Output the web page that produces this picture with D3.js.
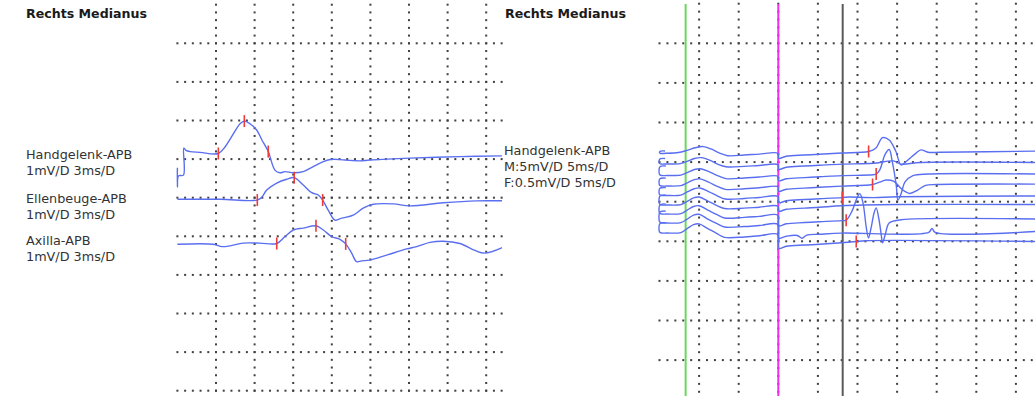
<!DOCTYPE html>
<html>
<head>
<meta charset="utf-8">
<script src="https://cdn.jsdelivr.net/npm/d3@7"></script>
<style>
  html, body { margin: 0; padding: 0; background: #fff; }
  svg { display: block; }
  text { font-family: "DejaVu Sans", Verdana, sans-serif; fill: #333; }
</style>
</head>
<body>
<svg id="chart" width="1035" height="396"></svg>
<script>
// ---------- labels ----------
const panelTitles = ["Rechts Medianus", "Rechts Medianus"];
const leftLabels = [
  ["Handgelenk-APB", "1mV/D 3ms/D"],
  ["Ellenbeuge-APB", "1mV/D 3ms/D"],
  ["Axilla-APB", "1mV/D 3ms/D"]
];
const rightLabel = ["Handgelenk-APB", "M:5mV/D 5ms/D", "F:0.5mV/D 5ms/D"];

// ---------- motor conduction traces: [ms, mV] ----------
const handgelenkAPB = [[0,-0.22],[0,-0.72],[0.09,-0.43],[0.47,-0.41],[0.5,0.29],[0.67,0.23],[0.98,0.2],[1.76,0.18],[3.18,0.15],[3.7,0.32],[4.24,0.6],[4.87,0.92],[5.2,0.99],[5.64,0.92],[6.16,0.76],[6.57,0.5],[7.06,0.2],[7.58,-0.28],[7.97,-0.35],[8.36,-0.32],[9.01,-0.35],[9.78,-0.32],[10.56,-0.19],[11.34,-0.06],[11.99,0],[13.02,-0.02],[14.18,-0.04],[14.96,-0.02],[18.07,0.03],[21.96,0.07],[25.3,0.09]];
const ellenbeugeAPB = [[0,0],[3.31,0],[6.21,-0.02],[6.57,0.06],[6.94,0.24],[7.72,0.42],[8.49,0.52],[9.08,0.56],[9.78,0.37],[10.44,0.17],[10.95,0.11],[11.29,-0.02],[11.72,-0.28],[12.25,-0.54],[12.77,-0.49],[13.67,-0.41],[14.44,-0.23],[15.22,-0.13],[16.78,-0.12],[18.07,-0.17],[20.66,-0.09],[23.26,-0.04],[25.3,-0.04]];
const axillaAPB = [[0,0],[2.79,0],[3.47,-0.06],[4.09,-0.04],[5.12,0.03],[6.42,0.03],[7.72,0.02],[8.36,0.2],[9.01,0.37],[9.78,0.42],[10.77,0.48],[11.34,0.37],[11.99,0.2],[12.63,0.13],[13.08,0.01],[13.54,-0.23],[13.93,-0.45],[14.32,-0.43],[14.96,-0.41],[16.26,-0.28],[17.82,-0.12],[18.59,-0.06],[19.63,0.05],[20.66,0.08],[21.96,0.02],[23.12,-0.16],[23.9,-0.23],[25.3,-0.08]];
const leftTraces = [handgelenkAPB, ellenbeugeAPB, axillaAPB];
// latency markers (ms): onset, peak, end
const leftMarkers = [[3.18, 5.2, 7.06], [6.21, 9.08, 11.29], [7.72, 10.77, 13.08]];

// ---------- F-wave series: M part (mV, shown at 5 mV/D) up to 15 ms ----------
const mParts = [
  [[0.7,0.3],[0.15,0.28],[0,0.18],[0.1,0],[0.8,0],[2.4,0.1],[3.4,0.35],[4.5,0.7],[5.5,0.85],[6.5,0.55],[7.6,0.02],[8.6,-0.3],[10.7,-0.22],[12.6,-0.1],[14.95,0]],
  [[0.7,0.7],[0.15,0.68],[0,0.55],[0,0.08],[0.2,0],[0.8,0],[2.6,0.05],[3.4,0.3],[4.4,0.7],[5.3,0.8],[6.4,0.45],[7.4,-0.05],[8.4,-0.35],[10.7,-0.3],[12.6,-0.18],[14.95,-0.08]],
  [[0.8,1.2],[0.2,1.18],[0,1.0],[0,0.15],[0.25,0],[0.9,0],[2.7,0.05],[3.5,0.35],[4.4,0.75],[5.2,0.85],[6.3,0.45],[7.4,-0.05],[8.4,-0.4],[10.7,-0.32],[12.6,-0.2],[14.95,-0.1]],
  [[0.8,1.0],[0.2,0.98],[0,0.85],[0,0.12],[0.25,0],[0.9,0],[2.7,0.05],[3.5,0.4],[4.4,0.8],[5.1,0.9],[6.2,0.5],[7.3,-0.05],[8.3,-0.42],[10.7,-0.35],[12.6,-0.22],[14.95,-0.1]],
  [[0.8,1.0],[0.2,0.98],[0,0.85],[0,0.12],[0.25,0],[0.9,0],[2.7,0.05],[3.5,0.45],[4.4,0.85],[5.1,0.95],[6.2,0.5],[7.3,-0.05],[8.3,-0.45],[10.7,-0.38],[12.6,-0.25],[14.95,-0.12]],
  [[0.8,1.25],[0.2,1.22],[0,1.05],[0,0.15],[0.25,0],[0.9,0],[2.7,0.05],[3.5,0.45],[4.3,0.9],[5.0,1.0],[6.1,0.5],[7.2,-0.05],[8.2,-0.45],[10.7,-0.4],[12.6,-0.28],[14.95,-0.15]],
  [[0.8,1.25],[0.2,1.22],[0,1.05],[0,0.15],[0.25,0],[0.9,0],[2.7,0.05],[3.5,0.5],[4.3,0.95],[5.0,1.05],[6.1,0.5],[7.2,-0.05],[8.2,-0.5],[10.7,-0.42],[12.6,-0.3],[14.95,-0.15]],
  [[0.8,1.5],[0.2,1.47],[0,1.3],[0,0.18],[0.25,0],[0.9,0],[2.7,0.05],[3.5,0.5],[4.3,1.0],[5.0,1.1],[6.1,0.5],[7.2,-0.05],[8.2,-0.5],[10.7,-0.45],[12.6,-0.32],[14.95,-0.18]],
  [[0.8,1.3],[0.2,1.27],[0,1.1],[0,0.15],[0.25,0],[0.9,0],[2.7,0.05],[3.5,0.55],[4.3,1.05],[5.0,1.15],[6.1,0.55],[7.2,-0.05],[8.2,-0.55],[10.7,-0.5],[12.6,-0.35],[14.95,-0.2]]
];
// ---------- F part (mV, shown at 0.5 mV/D) from 15 ms ----------
const fParts = [
  [[15.05,-0.085],[16,-0.06],[18.3,-0.045],[20.2,-0.035],[23,-0.02],[26.4,0],[27.3,0.04],[28.16,0.175],[29.0,0.145],[29.85,0],[30.48,-0.17],[31.1,-0.13],[32.4,-0.02],[33.0,0.02],[33.9,-0.01],[35.4,-0.01],[47.5,0.005]],
  [[15.05,-0.085],[16,-0.06],[18.3,-0.045],[20.2,-0.035],[23,-0.02],[27,-0.01],[29.5,0.02],[30.5,-0.02],[33,0],[47.5,0]],
  [[15.05,-0.085],[16,-0.06],[18.3,-0.045],[20.2,-0.035],[23,-0.02],[26.9,-0.01],[27.36,0],[27.8,0.05],[28.5,0.25],[29.0,0.31],[29.4,0.15],[29.9,-0.15],[30.1,-0.33],[30.5,-0.25],[31.0,-0.1],[32,-0.02],[34,0],[47.5,0]],
  [[15.05,-0.085],[16,-0.06],[18.3,-0.045],[20.2,-0.035],[23,-0.02],[26.9,0],[27.8,0.03],[28.6,0.057],[29.6,0.04],[30.6,-0.06],[31.6,-0.113],[32.6,-0.07],[33.6,-0.01],[35,0],[47.5,0.005]],
  [[15.05,-0.085],[16,-0.06],[18.3,-0.045],[20.2,-0.035],[23,-0.02],[24,-0.012],[27,-0.02],[30,-0.01],[47.5,0]],
  [[15.05,-0.085],[16,-0.06],[18.3,-0.045],[20.2,-0.035],[23,-0.015],[30,0],[47.5,0]],
  [[15.05,-0.085],[16,-0.06],[18.3,-0.045],[20.2,-0.035],[23,-0.02],[23.57,-0.015],[24.3,0.1],[25.0,0.28],[25.3,0.32],[25.7,0.2],[26.1,-0.1],[26.39,-0.24],[26.7,-0.12],[27.1,0.08],[27.36,0.14],[27.7,0],[28.0,-0.2],[28.16,-0.3],[28.5,-0.2],[29.0,-0.05],[30.5,-0.01],[47.5,0]],
  [[15.05,-0.085],[16,-0.06],[17.4,-0.05],[18.0,-0.085],[18.6,-0.045],[20.2,-0.035],[23,-0.02],[34.0,-0.01],[34.4,0.04],[34.8,-0.01],[47.5,0]],
  [[15.05,-0.085],[16,-0.06],[18.3,-0.045],[20.2,-0.035],[23,-0.015],[24.84,0],[26,0.01],[47.5,0]]
];
// F latency markers (ms); null where none is set
const fMarkers = [26.4, null, 27.36, 26.9, 23.07, null, 23.57, null, 24.84];
// cursor positions (ms)
const cursorTimes = [3.3, 15, 23.13];

// ---------- layout ----------
const svg = d3.select("#chart");
const TRACE = "#5a6ff0", MARK = "#f03a3a", DOT = "#404040";
const cursorColors = ["#6ad85c", "#f22ef2", "#5a5a5a"];

// left panel: 1 mV/D, 3 ms/D
const L = { x0: 177.4, y0: 4.7, cell: 38.6, xEnd: 502, cols: 8, rows: 10 };
// right panel: 5 ms/D
const R = { x0: 659.5, y0: 3.7, cell: 39.6, xEnd: 1035, cols: 9, rows: 9 };

const xL = d3.scaleLinear().domain([0, 30]).range([L.x0, L.x0 + 10 * L.cell]);
const yL = d3.scaleLinear().domain([0, 10]).range([L.y0, L.y0 + 10 * L.cell]);
const xR = d3.scaleLinear().domain([0, 50]).range([R.x0, R.x0 + 10 * R.cell]);
const yR = d3.scaleLinear().domain([0, 10]).range([R.y0, R.y0 + 10 * R.cell]);

const leftBase = [4.005, 5.041, 6.207];            // divisions
const mBase = [3.778, 4.048, 4.338, 4.604, 4.843, 5.083, 5.311, 5.538, 5.79];
const fBase = [3.732, 4.01, 4.301, 4.566, 4.856, 5.071, 5.437, 5.753, 6.005];
const mGain = 5, fGain = 0.5;

function drawGrid(P) {
  const g = svg.append("g").attr("fill", DOT);
  const step = P.cell / 5;
  const pts = [];
  for (let j = 1; j <= P.rows; j++) {
    const y = P.y0 + j * P.cell;
    for (let x = P.x0; x <= P.xEnd + 0.5; x += step) pts.push([x, y]);
  }
  for (let i = 1; i <= P.cols; i++) {
    const x = P.x0 + i * P.cell;
    for (let y = P.y0; y <= 397; y += step) pts.push([x, y]);
  }
  g.selectAll("rect").data(pts).join("rect")
    .attr("x", d => d[0] - 1).attr("y", d => d[1] - 1)
    .attr("width", 2).attr("height", 2);
}
drawGrid(L);
drawGrid(R);

// clip for left panel
svg.append("clipPath").attr("id", "clipL").append("rect")
  .attr("x", 170).attr("y", 0).attr("width", L.xEnd - 170).attr("height", 396);

// titles
svg.selectAll("text.title").data(panelTitles).join("text")
  .attr("class", "title")
  .attr("x", (d, i) => i === 0 ? 26 : 505).attr("y", 18)
  .attr("font-size", 12.6).attr("font-weight", "bold").style("fill", "#1a1a1a")
  .text(d => d);

// left labels
const labelTop = [158.5, 202.5, 245];
leftLabels.forEach((lines, i) => {
  lines.forEach((s, k) => {
    svg.append("text").attr("x", 26).attr("y", labelTop[i] + k * 16)
      .attr("font-size", 12.8).text(s);
  });
});
rightLabel.forEach((s, k) => {
  svg.append("text").attr("x", 504).attr("y", 155 + k * 16)
    .attr("font-size", 12.8).text(s);
});

// interpolate a trace value at time t (monotone part only)
function valueAt(pts, t) {
  for (let i = 1; i < pts.length; i++) {
    const a = pts[i - 1], b = pts[i];
    if (b[0] > a[0] && t >= a[0] && t <= b[0]) {
      return a[1] + (b[1] - a[1]) * (t - a[0]) / (b[0] - a[0]);
    }
  }
  return pts[pts.length - 1][1];
}

const line = d3.line().curve(d3.curveCatmullRom.alpha(0.5));

// left traces
const gL = svg.append("g").attr("clip-path", "url(#clipL)");
leftTraces.forEach((tr, i) => {
  const toXY = d => [xL(d[0]), yL(leftBase[i] - d[1])];
  gL.append("path").attr("d", line(tr.map(toXY)))
    .attr("fill", "none").attr("stroke", TRACE).attr("stroke-width", 1.4)
    .attr("stroke-linejoin", "round");
  leftMarkers[i].forEach(t => {
    const x = xL(t), y = yL(leftBase[i] - valueAt(tr, t));
    gL.append("line").attr("x1", x).attr("x2", x).attr("y1", y - 6).attr("y2", y + 6)
      .attr("stroke", MARK).attr("stroke-width", 1.6);
  });
});

// cursors
cursorTimes.forEach((t, i) => {
  svg.append("line").attr("x1", xR(t)).attr("x2", xR(t)).attr("y1", 4).attr("y2", 396)
    .attr("stroke", cursorColors[i]).attr("stroke-width", 2);
});

// F-wave traces
const gR = svg.append("g");
mParts.forEach((mp, i) => {
  const fp = fParts[i];
  const pts = mp.map(d => [xR(d[0]), yR(mBase[i] - d[1] / mGain)])
    .concat(fp.map(d => [xR(d[0]), yR(fBase[i] - d[1] / fGain)]));
  gR.append("path").attr("d", line(pts))
    .attr("fill", "none").attr("stroke", TRACE).attr("stroke-width", 1.4)
    .attr("stroke-linejoin", "round");
});
fMarkers.forEach((t, i) => {
  if (t == null) return;
  const x = xR(t), y = yR(fBase[i] - valueAt(fParts[i], t) / fGain);
  gR.append("line").attr("x1", x).attr("x2", x).attr("y1", y - 6).attr("y2", y + 6)
    .attr("stroke", MARK).attr("stroke-width", 1.6);
});
</script>
</body>
</html>
